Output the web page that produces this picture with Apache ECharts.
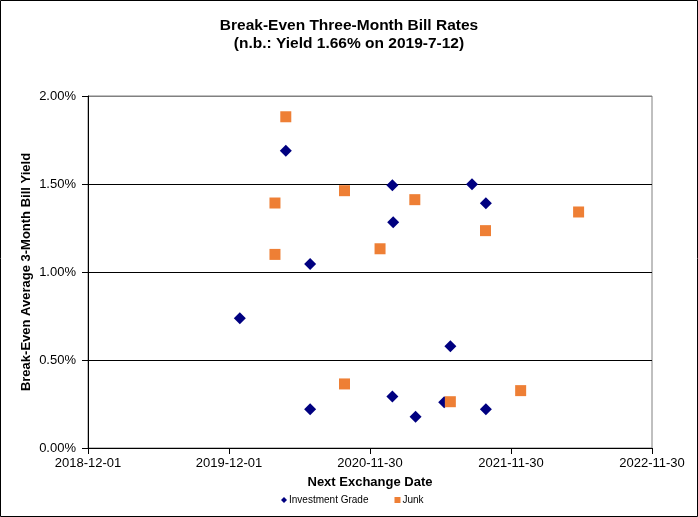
<!DOCTYPE html>
<html>
<head>
<meta charset="utf-8">
<script src="https://cdn.jsdelivr.net/npm/echarts@6/dist/echarts.min.js"></script>
<style>
html,body{margin:0;padding:0;background:#fff;}
#chart{width:698px;height:517px;}
</style>
</head>
<body>
<div id="chart"></div>
<script>
// ---- data ----
var baseDate = '2018-12-01';
var xTickLabels = ['2018-12-01', '2019-12-01', '2020-11-30', '2021-11-30', '2022-11-30'];
var yTickLabels = ['0.00%', '0.50%', '1.00%', '1.50%', '2.00%'];

var igDates = ['2019-12-29', '2020-04-26', '2020-06-28', '2021-01-27', '2021-01-29', '2021-08-21', '2021-09-26',
               '2021-06-26', '2021-01-27', '2021-03-28', '2021-06-10', '2021-09-26', '2020-06-28'];
var igValues = [0.737, 1.689, 1.045, 1.493, 1.282, 1.498, 1.390,
                0.578, 0.292, 0.178, 0.260, 0.220, 0.220];

var junkDates = ['2020-04-26', '2020-03-29', '2020-03-29', '2020-09-25', '2020-12-26', '2021-03-26', '2021-09-25',
                 '2022-05-24', '2020-09-25', '2021-06-26', '2021-12-25'];
var junkValues = [1.882, 1.392, 1.100, 1.462, 1.132, 1.411, 1.235,
                  1.341, 0.364, 0.263, 0.326];

// ---- helpers ----
var DAY = 86400000;
function toUTC(s) { var p = s.split('-'); return Date.UTC(+p[0], +p[1] - 1, +p[2]); }
function dayOffset(s) { return Math.round((toUTC(s) - toUTC(baseDate)) / DAY); }
function offsetLabel(v) {
  var d = new Date(toUTC(baseDate) + v * DAY);
  var m = d.getUTCMonth() + 1, dd = d.getUTCDate();
  return d.getUTCFullYear() + '-' + (m < 10 ? '0' : '') + m + '-' + (dd < 10 ? '0' : '') + dd;
}
function pairs(dates, vals) { return dates.map(function (d, i) { return [dayOffset(d), vals[i]]; }); }

var xMax = dayOffset(xTickLabels[xTickLabels.length - 1]);
var xInterval = dayOffset(xTickLabels[1]);

var font = 'Arial, "Liberation Sans", sans-serif';
var chart = echarts.init(document.getElementById('chart'));
chart.setOption({
  animation: false,
  backgroundColor: '#fff',
  textStyle: { fontFamily: font },
  title: {
    text: 'Break-Even Three-Month Bill Rates\n(n.b.: Yield 1.66% on 2019-7-12)',
    left: 'center',
    top: 12,
    textStyle: { fontFamily: font, fontSize: 15.5, fontWeight: 'bold', color: '#000', lineHeight: 18 }
  },
  graphic: [{
    type: 'rect',
    shape: { x: 0.5, y: 0.5, width: 697, height: 516 },
    style: { fill: 'none', stroke: '#000', lineWidth: 1 },
    z: 100
  }],
  legend: {
    bottom: 7,
    left: 276,
    itemWidth: 6,
    itemHeight: 6,
    itemGap: 26,
    textStyle: { fontFamily: font, fontSize: 10, color: '#000', padding: [0, 0, 0, -3] },
    data: [
      { name: 'Investment Grade', icon: 'diamond' },
      { name: 'Junk', icon: 'rect' }
    ]
  },
  grid: {
    left: 88, right: 46, top: 96, bottom: 69,
    show: true, borderColor: '#808080', borderWidth: 1
  },
  xAxis: {
    type: 'value',
    min: 0, max: xMax, interval: xInterval,
    name: 'Next Exchange Date',
    nameLocation: 'middle',
    nameGap: 28,
    nameMoveOverlap: false,
    nameTextStyle: { fontFamily: font, fontSize: 13, fontWeight: 'bold', color: '#000' },
    axisLine: { show: true, lineStyle: { color: '#000', width: 1 } },
    axisTick: { show: true, inside: false, length: 6, lineStyle: { color: '#000' } },
    axisLabel: {
      fontFamily: font, fontSize: 13, color: '#000', margin: 9,
      formatter: function (v) { return offsetLabel(v); }
    },
    splitLine: { show: false }
  },
  yAxis: {
    type: 'value',
    min: 0, max: 2, interval: 0.5,
    name: 'Break-Even Average 3-Month Bill Yield',
    nameLocation: 'middle',
    nameGap: 55,
    nameMoveOverlap: false,
    nameTextStyle: { fontFamily: font, fontSize: 13, fontWeight: 'bold', color: '#000' },
    axisLine: { show: true, lineStyle: { color: '#000', width: 1 } },
    axisTick: { show: true, inside: false, length: 6, lineStyle: { color: '#000' } },
    axisLabel: {
      fontFamily: font, fontSize: 13, color: '#000', margin: 12,
      formatter: function (v) { return yTickLabels[Math.round(v / 0.5)]; }
    },
    splitLine: { show: true, lineStyle: { color: ['#000', '#000', '#000', '#000', '#808080'], width: 1 } }
  },
  series: [
    {
      name: 'Investment Grade',
      type: 'scatter',
      symbol: 'diamond',
      symbolSize: [12, 12],
      itemStyle: { color: '#000080', opacity: 1 },
      data: pairs(igDates, igValues),
      z: 3
    },
    {
      name: 'Junk',
      type: 'scatter',
      symbol: 'rect',
      symbolSize: [11, 11],
      itemStyle: { color: '#EE7F35', opacity: 1 },
      data: pairs(junkDates, junkValues),
      z: 4
    }
  ]
});
</script>
</body>
</html>
